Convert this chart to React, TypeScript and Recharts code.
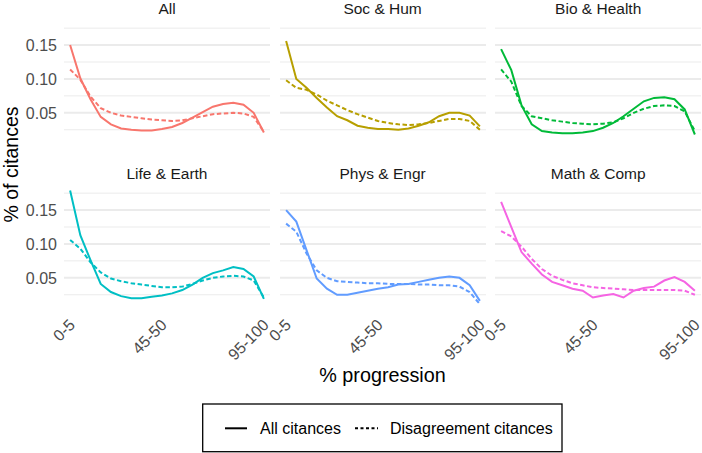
import React from 'react';
import { LineChart, Line, XAxis, YAxis, ReferenceLine } from 'recharts';

const CATEGORIES = [
  '0-5', '5-10', '10-15', '15-20', '20-25', '25-30', '30-35', '35-40', '40-45', '45-50',
  '50-55', '55-60', '60-65', '65-70', '70-75', '75-80', '80-85', '85-90', '90-95', '95-100',
];
const X_TICKS = [0, 9, 19];
const Y_TICKS = [0.05, 0.1, 0.15];
const Y_MINOR = [0.025, 0.075, 0.125, 0.175];

const FIELDS = ['All', 'Soc & Hum', 'Bio & Health', 'Life & Earth', 'Phys & Engr', 'Math & Comp'];
const COLORS = ['#F8766D', '#B79F00', '#00BA38', '#00BFC4', '#619CFF', '#F564E3'];

// solid = all citances, dashed = disagreement citances
const ALL_SOLID = [0.150, 0.101, 0.070, 0.044, 0.033, 0.027, 0.025, 0.024, 0.024, 0.026, 0.029, 0.035, 0.043, 0.051, 0.059, 0.063, 0.065, 0.062, 0.050, 0.021];
const ALL_DASHED = [0.114, 0.099, 0.074, 0.057, 0.050, 0.046, 0.044, 0.042, 0.040, 0.039, 0.038, 0.039, 0.042, 0.045, 0.048, 0.049, 0.050, 0.049, 0.044, 0.022];
const SOC_SOLID = [0.156, 0.100, 0.087, 0.072, 0.058, 0.045, 0.039, 0.031, 0.028, 0.026, 0.026, 0.025, 0.027, 0.031, 0.036, 0.045, 0.050, 0.050, 0.046, 0.030];
const SOC_DASHED = [0.098, 0.087, 0.084, 0.077, 0.068, 0.061, 0.054, 0.048, 0.043, 0.038, 0.035, 0.033, 0.032, 0.033, 0.035, 0.038, 0.041, 0.041, 0.038, 0.025];
const BIO_SOLID = [0.144, 0.113, 0.061, 0.033, 0.023, 0.021, 0.020, 0.020, 0.021, 0.023, 0.028, 0.035, 0.045, 0.056, 0.067, 0.072, 0.073, 0.070, 0.055, 0.018];
const BIO_DASHED = [0.114, 0.096, 0.060, 0.045, 0.042, 0.039, 0.037, 0.035, 0.034, 0.033, 0.034, 0.036, 0.042, 0.050, 0.056, 0.060, 0.061, 0.060, 0.052, 0.023];
const LIFE_SOLID = [0.179, 0.113, 0.076, 0.041, 0.029, 0.023, 0.020, 0.020, 0.022, 0.024, 0.027, 0.032, 0.040, 0.050, 0.057, 0.061, 0.066, 0.063, 0.052, 0.019];
const LIFE_DASHED = [0.106, 0.093, 0.073, 0.058, 0.049, 0.045, 0.042, 0.040, 0.038, 0.036, 0.036, 0.037, 0.041, 0.046, 0.050, 0.052, 0.053, 0.052, 0.046, 0.021];
const PHYS_SOLID = [0.150, 0.133, 0.091, 0.049, 0.034, 0.025, 0.025, 0.028, 0.031, 0.034, 0.036, 0.040, 0.041, 0.044, 0.047, 0.050, 0.052, 0.050, 0.039, 0.016];
const PHYS_DASHED = [0.130, 0.118, 0.086, 0.061, 0.050, 0.045, 0.044, 0.043, 0.042, 0.042, 0.041, 0.041, 0.041, 0.040, 0.040, 0.039, 0.039, 0.037, 0.029, 0.011];
const MATH_SOLID = [0.162, 0.125, 0.088, 0.071, 0.055, 0.044, 0.039, 0.034, 0.031, 0.021, 0.024, 0.026, 0.021, 0.031, 0.035, 0.037, 0.046, 0.051, 0.044, 0.031];
const MATH_DASHED = [0.119, 0.111, 0.096, 0.078, 0.063, 0.053, 0.047, 0.042, 0.039, 0.036, 0.035, 0.034, 0.033, 0.032, 0.032, 0.032, 0.032, 0.032, 0.031, 0.025];

const SOLID = [ALL_SOLID, SOC_SOLID, BIO_SOLID, LIFE_SOLID, PHYS_SOLID, MATH_SOLID];
const DASHED = [ALL_DASHED, SOC_DASHED, BIO_DASHED, LIFE_DASHED, PHYS_DASHED, MATH_DASHED];

const FONT = '"Liberation Sans", Arial, Helvetica, sans-serif';
const PANEL_LEFT = [64, 279.6, 495.2];
const PANEL_TOP = [19, 184];
const PLOT_W = 206;
const PLOT_H = 126;
const Y_AXIS_W = 64;
const X_AXIS_H = 70;

function XTick({ x, y, payload }: any) {
  const ax = x + 6;
  const ay = y + 16;
  return (
    <text
      x={ax}
      y={ay}
      transform={`rotate(-45, ${ax}, ${ay})`}
      textAnchor="end"
      fill="#4d4d4d"
      fontSize={16}
      fontFamily={FONT}
    >
      {CATEGORIES[payload.value]}
    </text>
  );
}

function Panel({ index }: { index: number }) {
  const col = index % 3;
  const row = Math.floor(index / 3);
  const data = CATEGORIES.map((c, i) => ({ i, solid: SOLID[index][i], dashed: DASHED[index][i] }));
  const color = COLORS[index];
  return (
    <div
      style={{
        position: 'absolute',
        left: PANEL_LEFT[col] - Y_AXIS_W,
        top: PANEL_TOP[row] - 19,
      }}
    >
      <LineChart
        width={Y_AXIS_W + PLOT_W + 12}
        height={19 + PLOT_H + X_AXIS_H}
        data={data}
        margin={{ top: 19, right: 12, bottom: 0, left: 0 }}
        style={{ overflow: 'visible' }}
      >
        {Y_MINOR.map((v) => (
          <ReferenceLine key={`mi-${v}`} y={v} stroke="#ebebeb" strokeWidth={1} />
        ))}
        {Y_TICKS.map((v) => (
          <ReferenceLine key={`ma-${v}`} y={v} stroke="#ebebeb" strokeWidth={2} />
        ))}
        <XAxis
          type="number"
          dataKey="i"
          domain={[-0.6, 19.6]}
          ticks={X_TICKS}
          height={X_AXIS_H}
          axisLine={false}
          tickLine={false}
          tickSize={0}
          tickMargin={0}
          interval={0}
          tick={row === 1 ? <XTick /> : false}
        />
        <YAxis
          type="number"
          domain={[0.0025, 0.1885]}
          ticks={Y_TICKS}
          width={Y_AXIS_W}
          axisLine={false}
          tickLine={false}
          tickSize={0}
          tickMargin={7}
          allowDataOverflow
          tickFormatter={(v: number) => v.toFixed(2)}
          tick={col === 0 ? { fill: '#4d4d4d', fontSize: 16, fontFamily: FONT } : false}
        />
        <Line
          type="linear"
          dataKey="dashed"
          stroke={color}
          strokeWidth={2}
          strokeDasharray="4.5 2.5"
          dot={false}
          isAnimationActive={false}
        />
        <Line
          type="linear"
          dataKey="solid"
          stroke={color}
          strokeWidth={2}
          dot={false}
          isAnimationActive={false}
        />
      </LineChart>
    </div>
  );
}

export default function App() {
  return (
    <div
      style={{
        position: 'absolute',
        left: 0,
        top: 0,
        width: 702,
        height: 453,
        overflow: 'hidden',
        background: '#fff',
        fontFamily: FONT,
      }}
    >
      <svg width={702} height={453} style={{ position: 'absolute', left: 0, top: 0 }}>
        {FIELDS.map((f, idx) => (
          <text
            key={f}
            x={PANEL_LEFT[idx % 3] + PLOT_W / 2}
            y={PANEL_TOP[Math.floor(idx / 3)] - 5}
            textAnchor="middle"
            fontSize={15.5}
            fill="#1a1a1a"
            fontFamily={FONT}
          >
            {f}
          </text>
        ))}
        <text
          x={18}
          y={164.5}
          transform="rotate(-90, 18, 164.5)"
          textAnchor="middle"
          fontSize={19.5}
          fill="#000"
          fontFamily={FONT}
        >
          % of citances
        </text>
        <text x={382.5} y={382} textAnchor="middle" fontSize={19.8} fill="#000" fontFamily={FONT}>
          % progression
        </text>
        <rect x={202.7} y={404} width={359.3} height={47.7} fill="#fff" stroke="#000" strokeWidth={1.3} />
        <line x1={225} y1={428.3} x2={247} y2={428.3} stroke="#000" strokeWidth={2} />
        <text x={260} y={434} fontSize={16} fill="#000" fontFamily={FONT}>
          All citances
        </text>
        <line x1={355} y1={428.3} x2={378} y2={428.3} stroke="#000" strokeWidth={2} strokeDasharray="3 2.5" />
        <text x={390} y={434} fontSize={16} fill="#000" fontFamily={FONT}>
          Disagreement citances
        </text>
      </svg>
      {FIELDS.map((f, idx) => (
        <Panel key={f} index={idx} />
      ))}
    </div>
  );
}
